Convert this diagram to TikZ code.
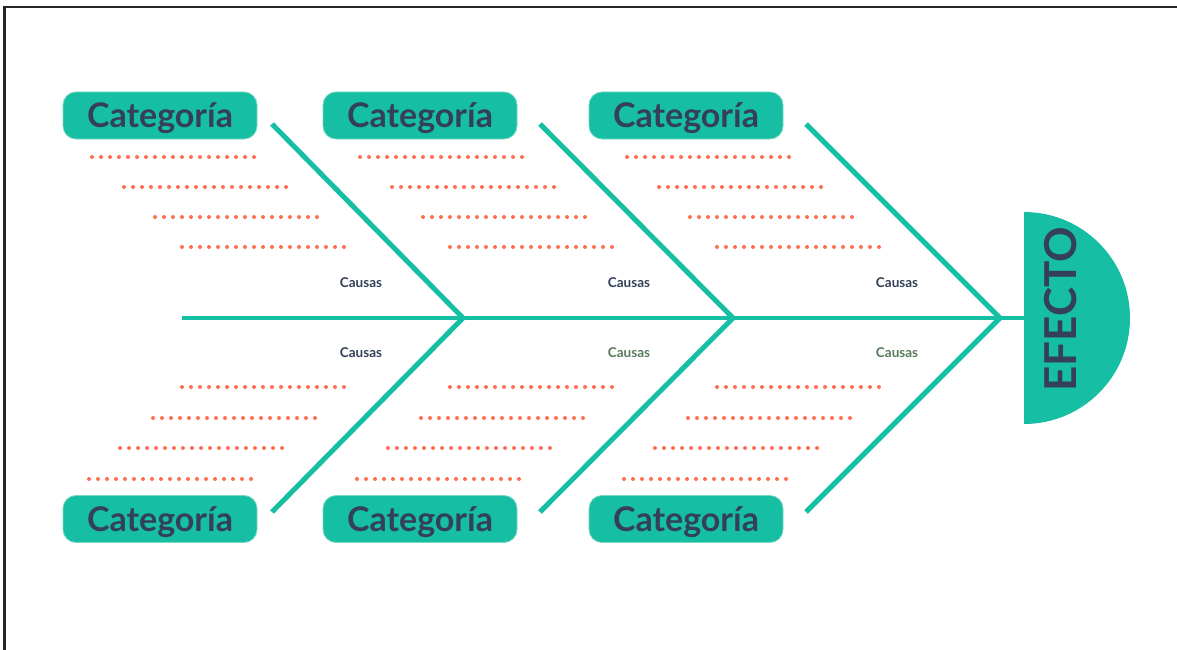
\documentclass[tikz,border=0pt]{standalone}
\usepackage{fontspec}
\setmainfont{Lato}
\definecolor{tealc}{RGB}{22,190,163}
\definecolor{tealedge}{RGB}{120,215,195}
\definecolor{darkc}{RGB}{52,64,88}
\definecolor{dotc}{RGB}{255,112,82}
\definecolor{greenc}{RGB}{88,122,92}
\newcommand{\fbdotrow}[2]{\foreach \i in {0,...,18}{\fill[dotc] ({#1+\i*9},#2) circle (2.0);}}
\begin{document}
\begin{tikzpicture}[x=1pt,y=-1pt,
  catbox/.style={fill=tealc, draw=tealedge, line width=0.8pt, rounded corners=13pt,
    minimum width=194pt, minimum height=47pt, inner sep=0pt, text=darkc, text depth=0pt,
    font=\bfseries\fontsize{34}{34}\selectfont},
  bone/.style={draw=tealc, line width=5pt},
  spine/.style={draw=tealc, line width=4.5pt},
  causa/.style={font=\bfseries\fontsize{13.5}{13.5}\selectfont, text=darkc, inner sep=0pt},
  causag/.style={causa, text=greenc}]
\useasboundingbox (0,0) rectangle (1177,650);
\draw[line width=2.4pt, black!85] (4.5,650) -- (4.5,7) -- (1177,7);

% effect head
\fill[tealc] (1024,212) arc[start angle=-90, end angle=90, radius=106] -- cycle;
\node[rotate=90, text=darkc, font=\bfseries\fontsize{44}{44}\selectfont, inner sep=0pt] (efecto) at (1061,309) {EFECTO};
\coordinate (head) at (1026,318);

% spine
\coordinate (s0) at (182,318);
\coordinate (j1) at (463,318);
\coordinate (j2) at (733,318);
\coordinate (j3) at (1000,318);
\draw[spine] (s0) -- (head);

% bone ends
\coordinate (u1) at (272,124);
\coordinate (u2) at (540,124);
\coordinate (u3) at (806,124);
\coordinate (l1) at (272,512);
\coordinate (l2) at (540,512);
\coordinate (l3) at (806,512);
\draw[bone] (u1) -- (j1) -- (l1);
\draw[bone] (u2) -- (j2) -- (l2);
\draw[bone] (u3) -- (j3) -- (l3);

% categories
\node[catbox] (c1) at (160,115.5) {Categoría};
\node[catbox] (c2) at (420,115.5) {Categoría};
\node[catbox] (c3) at (686,115.5) {Categoría};
\node[catbox] (c4) at (160,519) {Categoría};
\node[catbox] (c5) at (420,519) {Categoría};
\node[catbox] (c6) at (686,519) {Categoría};

% causas labels
\node[causa] (k1) at (361,283) {Causas};
\node[causa] (k2) at (629,283) {Causas};
\node[causa] (k3) at (897,283) {Causas};
\node[causa] (k4) at (361,353) {Causas};
\node[causag] (k5) at (629,353) {Causas};
\node[causag] (k6) at (897,353) {Causas};

% dotted lines (upper)
\foreach \dx in {0,268,535}{
  \fbdotrow{92+\dx}{157}
  \fbdotrow{124+\dx}{187}
  \fbdotrow{155+\dx}{217}
  \fbdotrow{182+\dx}{247}
}
% dotted lines (lower)
\foreach \dx in {0,268,535}{
  \fbdotrow{182+\dx}{387}
  \fbdotrow{153+\dx}{418}
  \fbdotrow{120+\dx}{448}
  \fbdotrow{89+\dx}{479}
}
\end{tikzpicture}
\end{document}
